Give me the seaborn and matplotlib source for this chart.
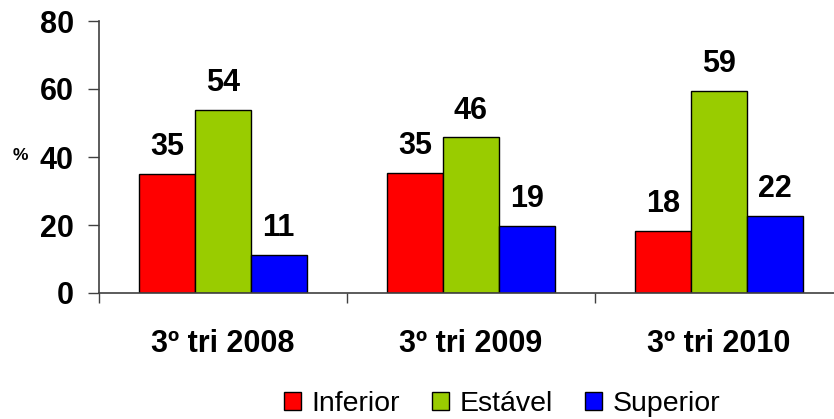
import matplotlib
matplotlib.use("Agg")
import matplotlib.pyplot as plt
import numpy as np
import pandas as pd
import seaborn as sns

periods = ["3º tri 2008", "3º tri 2009", "3º tri 2010"]
classes = ["Inferior", "Estável", "Superior"]
inferior = [35.1, 35.4, 18.2]
estavel = [53.9, 45.8, 59.5]
superior = [11.2, 19.7, 22.6]
shown_labels = {"Inferior": [35, 35, 18], "Estável": [54, 46, 59], "Superior": [11, 19, 22]}
colors = ["#FF0000", "#99CC00", "#0000FF"]

df = pd.DataFrame({
    "period": periods * 3,
    "class": [c for c in classes for _ in periods],
    "value": inferior + estavel + superior,
})

sns.set_style("white")
plt.rcParams["font.family"] = ["Liberation Sans", "DejaVu Sans"]
plt.rcParams["text.color"] = "black"

fig = plt.figure(figsize=(8.34, 4.19), dpi=100)
ax = fig.add_axes([99/834, 126/419, 744/834, 272/419])

sns.barplot(data=df, x="period", y="value", hue="class", order=periods,
            hue_order=classes, palette=colors, width=0.675, gap=0,
            edgecolor="black", linewidth=1, saturation=1, ax=ax)

# value labels above bars
for cont, cls in zip(ax.containers, classes):
    for bar, lab in zip(cont, shown_labels[cls]):
        ax.annotate(str(lab), (bar.get_x() + bar.get_width()/2, bar.get_height()),
                    xytext=(0, 13.5), textcoords="offset points", ha="center",
                    va="baseline", fontsize=22, fontweight="bold", color="black")

ax.set_ylim(0, 80)
ax.set_xlim(-0.5, 2.5)
ax.set_yticks([0, 20, 40, 60, 80])
ax.set_yticklabels(["0", "20", "40", "60", "80"], fontsize=22, fontweight="bold")
ax.tick_params(axis="y", direction="out", length=8, width=1, color="#404040",
               labelcolor="black", pad=10, left=True)

ax.set_xticks([-0.5, 0.5, 1.5, 2.5])
ax.set_xticklabels([])
ax.tick_params(axis="x", which="major", direction="out", length=7.5, width=1, color="#404040", bottom=True)
ax.set_xticks([0, 1, 2], minor=True)
ax.set_xticklabels(periods, minor=True, fontsize=22, fontweight="bold")
ax.tick_params(axis="x", which="minor", length=0, pad=26, labelcolor="black")

for s in ["top", "right"]:
    ax.spines[s].set_visible(False)
for s in ["left", "bottom"]:
    ax.spines[s].set_color("#404040")
    ax.spines[s].set_linewidth(1.2)
ax.set_xlabel("")
ax.set_ylabel("")

fig.text(20/834, 1 - 156/419, "%", fontsize=12.5, fontweight="bold", ha="center", va="center")

handles, labels = ax.get_legend_handles_labels()
ax.get_legend().remove()
fig.legend(handles, labels, loc="center", bbox_to_anchor=(502/834, 1 - 404/419),
           ncol=3, frameon=False, fontsize=20.5, handlelength=0.6, handleheight=0.6,
           handletextpad=0.35, columnspacing=1.15)

fig.savefig("out.png", dpi=100)
